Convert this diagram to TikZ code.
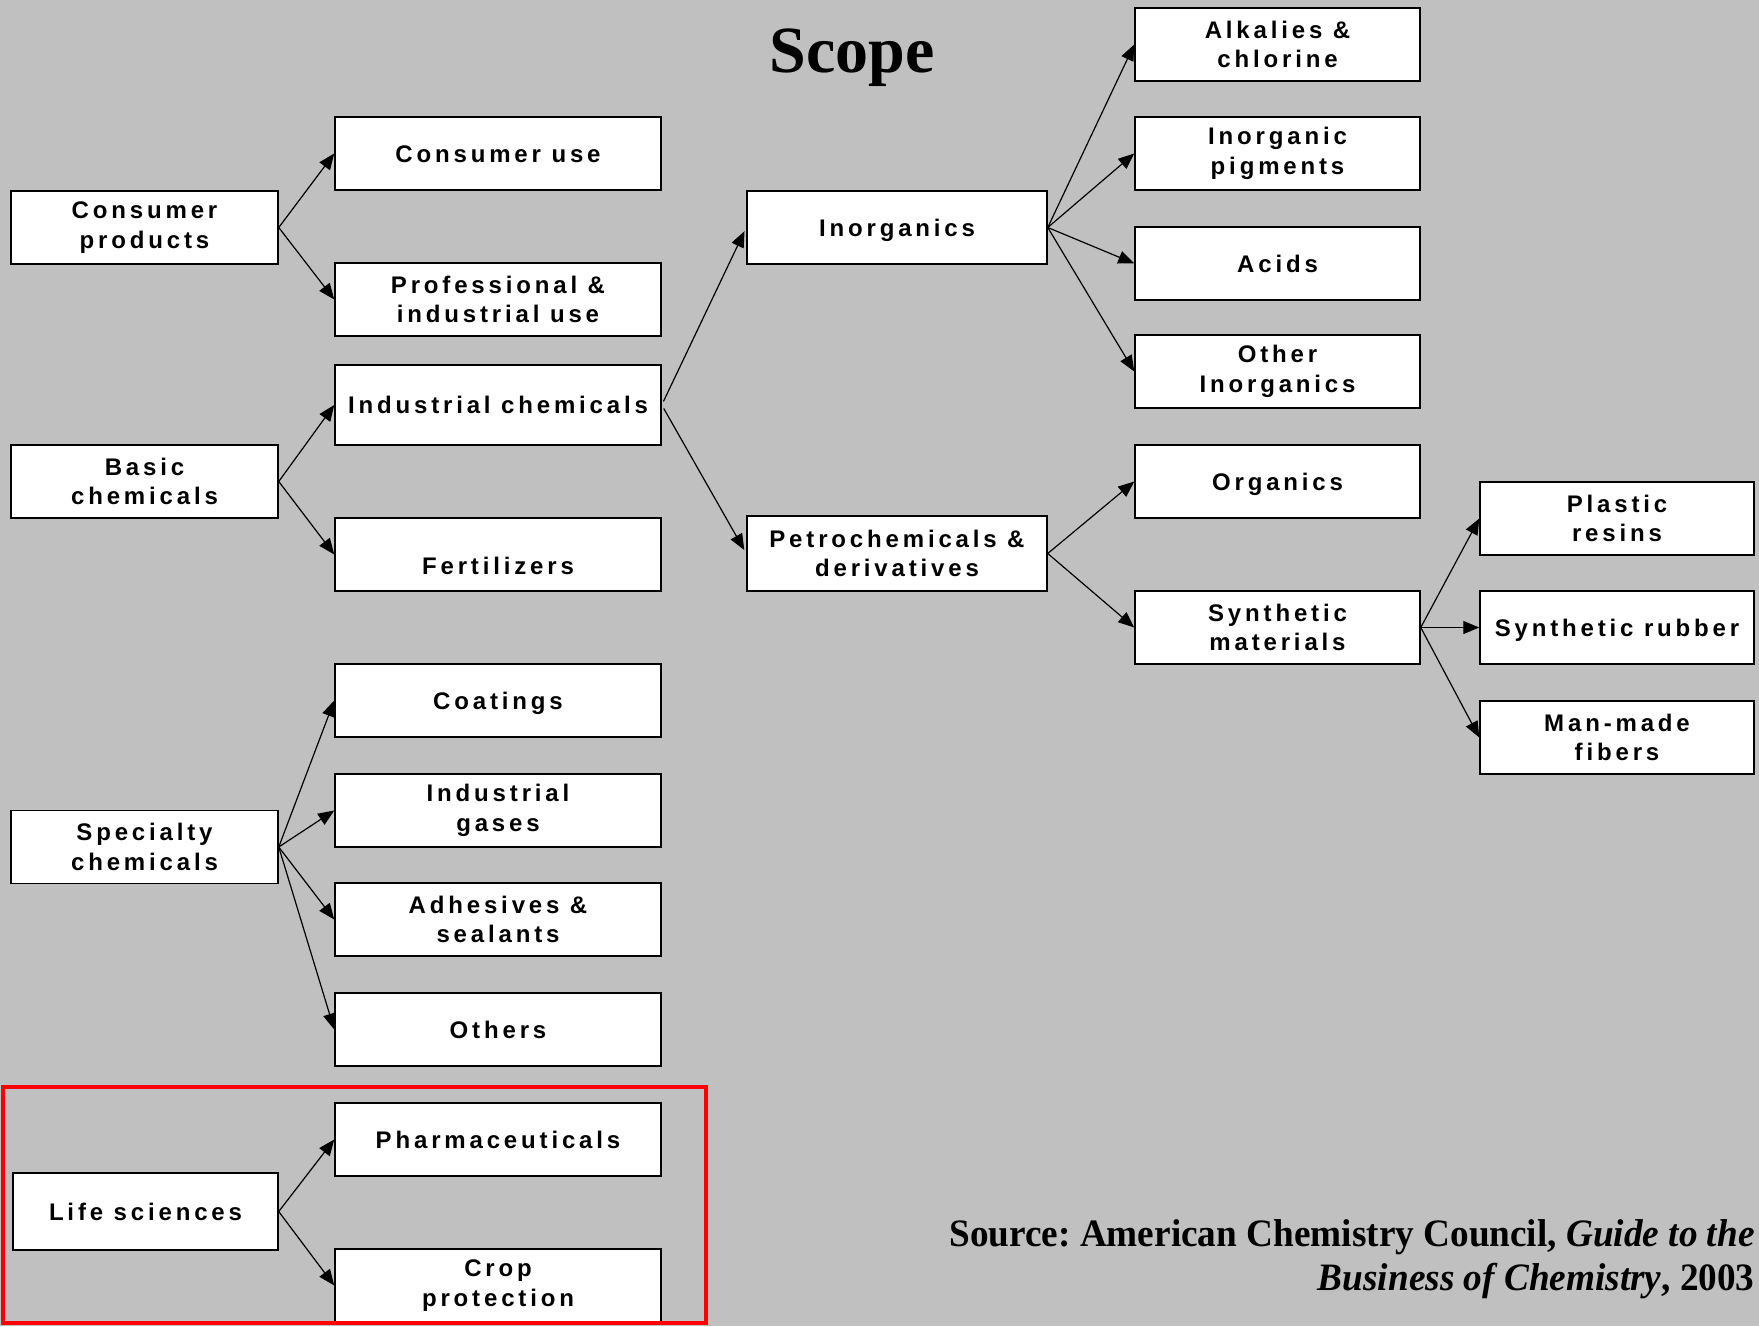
\documentclass[tikz,border=0pt]{standalone}
\usepackage{fontspec}
\setmainfont{Liberation Serif}
\newfontfamily\boxfont[LetterSpace=16]{Liberation Sans}
\newfontfamily\sourcefont[FakeStretch=0.96]{Liberation Serif}
\usetikzlibrary{arrows.meta}
\definecolor{bggray}{RGB}{192,192,192}
\tikzset{
	% Boxes
	box/.style={draw=black, fill=white, line width=0.75pt, align=center, inner sep=0pt,
		font=\boxfont\bfseries\fontsize{12}{14.8}\selectfont},
	lbox/.style={box, minimum width=133.5pt, minimum height=36.5pt},
	mbox/.style={box, minimum width=163pt, minimum height=36.5pt},
	ibox/.style={box, minimum width=150pt, minimum height=36.5pt},
	rbox/.style={box, minimum width=142.5pt, minimum height=36.5pt},
	farbox/.style={box, minimum width=137pt, minimum height=36.5pt},
	oneline/.style={text height=8.7pt, text depth=0pt},
	% Connectors
	arr/.style={-{Triangle[length=8pt,width=6.5pt]}, line width=0.6pt}
}
\begin{document}
\begin{tikzpicture}[x=0.5pt, y=-0.5pt]
		\fill [bggray] (0,0) rectangle (1759,1326);
		\useasboundingbox (0,0) rectangle (1759,1326);
		\node [font=\bfseries\fontsize{33}{36}\selectfont] (title) at (852,58) {Scope};
		% Left column
		\node [lbox] (cons) at (144.5,227.5) {Consumer\\products};
		\node [lbox] (basic) at (144.5,481.5) {Basic\\chemicals};
		\node [lbox] (spec) at (144.5,847) {Specialty\\chemicals};
		\node [lbox, oneline, minimum width=132.5pt, minimum height=38.5pt] (life) at (145.5,1211.5) {Life sciences};
		% Second column
		\node [mbox, oneline] (consuse) at (498,153.5) {Consumer use};
		\node [mbox] (prof) at (498,299.5) {Professional \&\\industrial use};
		\node [mbox, oneline, minimum height=40pt] (indchem) at (498,405) {Industrial chemicals};
		\node [mbox, text height=20pt, text depth=0pt] (fert) at (498,554.5) {Fertilizers};
		\node [mbox, oneline] (coat) at (498,700.5) {Coatings};
		\node [mbox] (gases) at (498,810.5) {Industrial\\gases};
		\node [mbox] (adh) at (498,919.5) {Adhesives \&\\sealants};
		\node [mbox, oneline] (others) at (498,1029.5) {Others};
		\node [mbox, oneline] (pharma) at (498,1139.5) {Pharmaceuticals};
		\node [mbox] (crop) at (498,1285.5) {Crop\\protection};
		% Third column
		\node [ibox, oneline] (inorg) at (897,227.5) {Inorganics};
		\node [ibox, minimum height=37.5pt] (petro) at (897,553.5) {Petrochemicals \&\\derivatives};
		% Fourth column
		\node [rbox] (alk) at (1277.5,44.5) {Alkalies \&\\chlorine};
		\node [rbox] (pigm) at (1277.5,153.5) {Inorganic\\pigments};
		\node [rbox, oneline] (acids) at (1277.5,263.5) {Acids};
		\node [rbox] (othinorg) at (1277.5,371.5) {Other\\Inorganics};
		\node [rbox, oneline] (organics) at (1277.5,481.5) {Organics};
		\node [rbox] (synmat) at (1277.5,627.5) {Synthetic\\materials};
		% Fifth column
		\node [farbox] (plastic) at (1617,518.5) {Plastic\\resins};
		\node [farbox, oneline] (rubber) at (1617,627.5) {Synthetic rubber};
		\node [farbox] (fibers) at (1617,737.5) {Man-made\\fibers};
		% Connectors
		\draw [arr] (cons.east) -- (consuse.west);
		\draw [arr] (cons.east) -- (prof.west);
		\draw [arr] (basic.east) -- (indchem.west);
		\draw [arr] (basic.east) -- (fert.west);
		\draw [arr] (spec.east) -- (coat.west);
		\draw [arr] (spec.east) -- (gases.west);
		\draw [arr] (spec.east) -- (adh.west);
		\draw [arr] (spec.east) -- (others.west);
		\draw [arr] (life.east) -- (pharma.west);
		\draw [arr] (life.east) -- (crop.west);
		\draw [arr, shorten <=2pt, shorten >=2pt] (indchem.east) -- (inorg.west);
		\draw [arr, shorten <=2pt, shorten >=2pt] (indchem.east) -- (petro.west);
		\draw [arr] (inorg.east) -- (alk.west);
		\draw [arr] (inorg.east) -- (pigm.west);
		\draw [arr] (inorg.east) -- (acids.west);
		\draw [arr] (inorg.east) -- (othinorg.west);
		\draw [arr] (petro.east) -- (organics.west);
		\draw [arr] (petro.east) -- (synmat.west);
		\draw [arr] (synmat.east) -- (plastic.west);
		\draw [arr] (synmat.east) -- (rubber.west);
		\draw [arr] (synmat.east) -- (fibers.west);
		% Life sciences frame
		\draw [red, line width=2.25pt] (3,1087) rectangle (706,1323);
		% Source
		\node [font=\sourcefont\bfseries\fontsize{19.4}{22}\selectfont, align=right, inner sep=0pt, anchor=north east] (source) at (1755,1219)
			{Source:\ American Chemistry Council, \textit{Guide to the}\\\textit{Business of Chemistry}, 2003};
	\end{tikzpicture}
\end{document}
